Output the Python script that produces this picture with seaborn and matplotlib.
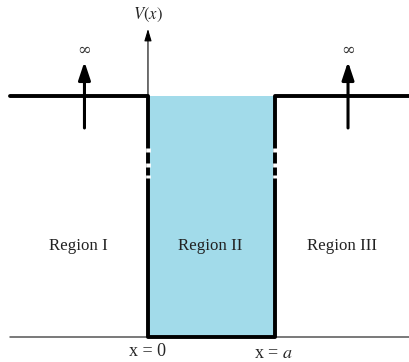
import numpy as np
import pandas as pd
import seaborn as sns
import matplotlib.pyplot as plt

# well in units of a, potential in units of the top step
a = 1.0
well_edges = [0.0, a]
top_level = 1.0
outside_x = [-1.09, 2.07]
region_names = ["Region I", "Region II", "Region III"]
region_x = [-0.55, 0.49, 1.53]
inf_arrow_x = [-0.5, 1.575]
edge_labels = ["x = 0", "x = $a$"]
edge_label_x = [0.0, 0.99]
# broken piece of the walls (solid / gaps)
wall_gaps = [(0.768, 0.784), (0.705, 0.722), (0.66, 0.672)]

sns.set_theme(style="white")
plt.rcParams['font.family'] = ['Liberation Serif', 'DejaVu Serif']
plt.rcParams['mathtext.fontset'] = 'stix'

fig = plt.figure(figsize=(4.1, 3.62), dpi=100)
ax = fig.add_axes([0, 0, 1, 1])
ax.set_xlim(-1.165, 2.063)
ax.set_ylim(-0.104, 1.398)
ax.axis("off")

blue = "#a2dbea"

# well fill
ax.fill_between(well_edges, 0, top_level, color=blue, lw=0, zorder=1)

# thin baseline
base = pd.DataFrame({"x": outside_x, "V": [0, 0]})
sns.lineplot(data=base, x="x", y="V", color="#555555", lw=1.1, ax=ax, zorder=2)

# potential profile
prof = pd.DataFrame({
    "x": [outside_x[0], well_edges[0], well_edges[0], well_edges[1], well_edges[1], outside_x[1]],
    "V": [top_level, top_level, 0, 0, top_level, top_level],
})
sns.lineplot(data=prof, x="x", y="V", sort=False, estimator=None, errorbar=None,
             color="black", lw=2.8, ax=ax, zorder=3)

# gaps in the walls
for xe in well_edges:
    for lo, hi in wall_gaps:
        ax.plot([xe, xe], [lo, hi], color="white", lw=3.4, solid_capstyle="butt", zorder=4)

# vertical axis
ax.annotate("", xy=(0, 1.278), xytext=(0, top_level),
            arrowprops=dict(arrowstyle="-|>,head_length=0.6,head_width=0.18",
                            color="black", lw=0.8, shrinkA=0, shrinkB=0), zorder=5)
ax.text(0, 1.335, "$V(x)$", ha="center", va="center", fontsize=12)

# infinity arrows
for xa in inf_arrow_x:
    ax.annotate("", xy=(xa, 1.142), xytext=(xa, 0.867),
                arrowprops=dict(arrowstyle="-|>,head_length=0.9,head_width=0.3",
                                color="black", lw=2.2, shrinkA=0, shrinkB=0), zorder=5)
    ax.text(xa, 1.19, "∞", ha="center", va="center", fontsize=12, color="#333333",
            family=['DejaVu Serif'])

for name, xr in zip(region_names, region_x):
    ax.text(xr, 0.378, name, ha="center", va="center", fontsize=12.2, color="#222222")

ax.text(edge_label_x[0], -0.06, edge_labels[0], ha="center", va="center", fontsize=13)
ax.text(edge_label_x[1], -0.07, edge_labels[1], ha="center", va="center", fontsize=13)

fig.savefig("out.png", dpi=100)
